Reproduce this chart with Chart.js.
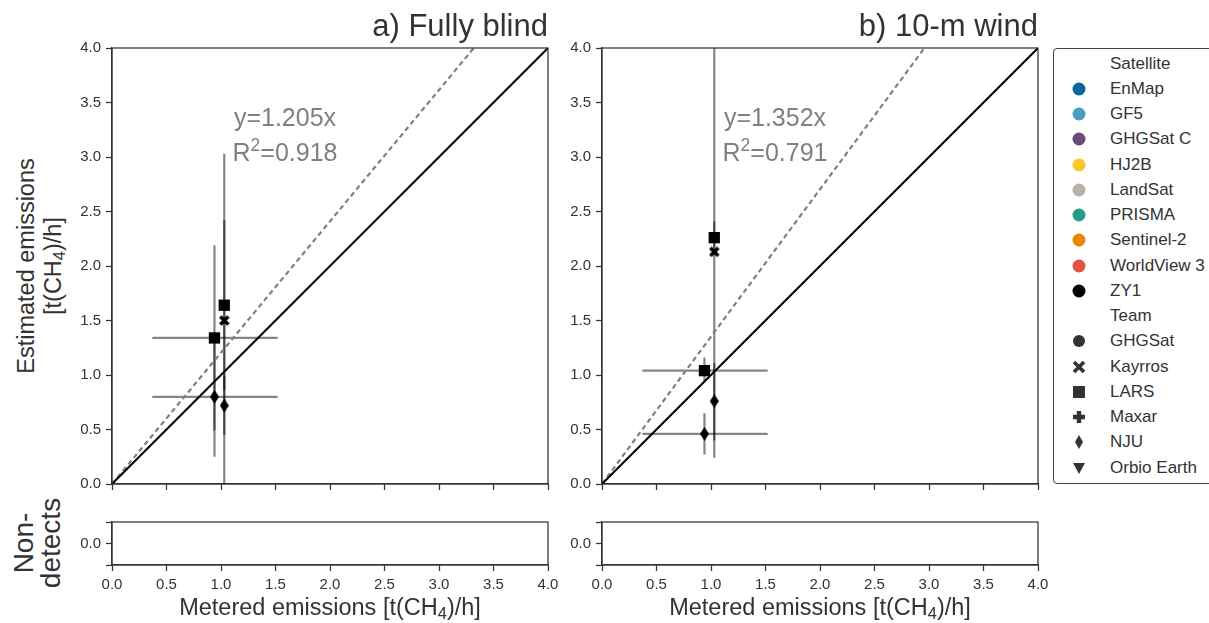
<!DOCTYPE html>
<html>
<head>
<meta charset="utf-8">
<script src="https://cdn.jsdelivr.net/npm/chart.js@4"></script>
<style>
  body { margin: 0; background: #fff; font-family: "Liberation Sans", Arial, sans-serif; color: #333; }
  #wrap { position: relative; width: 1209px; height: 623px; overflow: hidden; }
  canvas.plot { position: absolute; }
  .txt { position: absolute; white-space: nowrap; }
  .title { font-size: 31px; top: 8px; color: #333; }
  .note { font-size: 25px; color: #808080; transform: translateX(-50%); line-height: 35px; text-align: center; }
  .xlab { font-size: 23.5px; top: 594px; transform: translateX(-50%); }
  .rot { transform-origin: center center; text-align: center; }
  sub { font-size: 0.7em; vertical-align: -0.25em; line-height: 0; }
  sup { font-size: 0.7em; vertical-align: 0.55em; line-height: 0; }
  #legend { position: absolute; left: 1053px; top: 48px; width: 180px; height: 434px; border: 1px solid #444; border-radius: 4px; }
  .lrow { position: absolute; left: 0; height: 24px; font-size: 17px; line-height: 24px; }
  .lrow svg { position: absolute; left: 17px; top: 4px; }
  .lrow span { position: absolute; left: 56px; white-space: nowrap; }
</style>
</head>
<body>
<div id="wrap">
  <canvas class="plot" id="mainA" width="486" height="464" style="left:72px;top:34px"></canvas>
  <canvas class="plot" id="mainB" width="486" height="464" style="left:562px;top:34px"></canvas>
  <canvas class="plot" id="ndA" width="492" height="87" style="left:72px;top:508px"></canvas>
  <canvas class="plot" id="ndB" width="492" height="87" style="left:562px;top:508px"></canvas>

  <div class="txt title" style="right:661px">a) Fully blind</div>
  <div class="txt title" style="right:171px">b) 10-m wind</div>

  <div class="txt note" style="left:285px;top:100px">y=1.205x<br>R<sup>2</sup>=0.918</div>
  <div class="txt note" style="left:775px;top:100px">y=1.352x<br>R<sup>2</sup>=0.791</div>

  <div class="txt rot" style="font-size:23.5px;line-height:27px;width:300px;left:-110px;top:239px;transform:rotate(-90deg)">Estimated emissions<br>[t(CH<sub>4</sub>)/h]</div>
  <div class="txt rot" style="font-size:28px;line-height:27px;width:140px;left:-33px;top:516px;transform:rotate(-90deg)">Non-<br>detects</div>

  <div class="txt xlab" style="left:330px">Metered emissions [t(CH<sub>4</sub>)/h]</div>
  <div class="txt xlab" style="left:820px">Metered emissions [t(CH<sub>4</sub>)/h]</div>

  <div id="legend"></div>
</div>
<script>
  // --- Data ---
  const axisTicks = [0, 0.5, 1, 1.5, 2, 2.5, 3, 3.5, 4];
  const teamOfPoint = ["LARS", "Kayrros", "NJU", "LARS", "NJU"];
  const metered = [1.03, 1.03, 1.03, 0.94, 0.94];
  const meteredLow = [null, null, null, 0.37, 0.37];
  const meteredHigh = [null, null, null, 1.52, 1.52];

  // a) Fully blind
  const blindEstimated = [1.64, 1.5, 0.72, 1.34, 0.8];
  const blindLow = [0.86, 0.0, 0.45, 0.49, 0.25];
  const blindHigh = [2.42, 3.03, 0.99, 2.19, 1.35];
  const blindSlope = 1.205;

  // b) 10-m wind
  const windEstimated = [2.26, 2.13, 0.76, 1.04, 0.46];
  const windLow = [2.12, 0.24, 0.4, 0.93, 0.27];
  const windHigh = [2.41, 4.03, 1.11, 1.16, 0.65];
  const windSlope = 1.352;

  const ndTicks = [-1, 0, 1];

  const satellites = ["EnMap", "GF5", "GHGSat C", "HJ2B", "LandSat", "PRISMA", "Sentinel-2", "WorldView 3", "ZY1"];
  const satColors = ["#0b6796", "#4b9ec0", "#6d4a7c", "#fbc62a", "#b7b1aa", "#269c89", "#ec8506", "#e0533f", "#000000"];
  const teams = ["GHGSat", "Kayrros", "LARS", "Maxar", "NJU", "Orbio Earth"];

  // --- Marker shapes ---
  function markerCanvas(w, h, draw) {
    const c = document.createElement("canvas");
    c.width = w; c.height = h;
    const ctx = c.getContext("2d");
    ctx.fillStyle = "#000";
    draw(ctx, w, h);
    return c;
  }
  const diamondImg = markerCanvas(9, 14, (ctx, w, h) => {
    ctx.beginPath();
    ctx.moveTo(w / 2, 0); ctx.lineTo(w, h / 2); ctx.lineTo(w / 2, h); ctx.lineTo(0, h / 2);
    ctx.closePath(); ctx.fill();
  });
  const crossImg = markerCanvas(11, 11, (ctx, w, h) => {
    ctx.strokeStyle = "#000"; ctx.lineWidth = 3.6;
    ctx.beginPath();
    ctx.moveTo(1.5, 1.5); ctx.lineTo(w - 1.5, h - 1.5);
    ctx.moveTo(w - 1.5, 1.5); ctx.lineTo(1.5, h - 1.5);
    ctx.stroke();
  });
  const teamStyle = { LARS: "rect", Kayrros: crossImg, NJU: diamondImg };

  // --- Frame around every axes box ---
  const frame = {
    id: "frame",
    afterDatasetsDraw(chart) {
      const { ctx, chartArea: a } = chart;
      ctx.save();
      ctx.strokeStyle = "#333";
      ctx.lineWidth = 1.25;
      ctx.strokeRect(a.left, a.top, a.right - a.left, a.bottom - a.top);
      ctx.restore();
    },
  };

  function setTicks(values) {
    return (s) => { s.ticks = values.map((v) => ({ value: v })); };
  }
  const gridOpts = { drawOnChartArea: false, tickLength: 6, tickColor: "#333", tickWidth: 1.25 };
  const tickFont = { family: "'Liberation Sans', Arial, sans-serif", size: 15 };

  function buildDatasets(estimated, low, high, slope) {
    const ds = [];
    estimated.forEach((y, i) => {
      ds.push({
        data: [{ x: metered[i], y: y }],
        pointStyle: teamStyle[teamOfPoint[i]],
        pointRadius: 8,
        backgroundColor: "#000",
        borderColor: "#000",
        borderWidth: 0,
        order: 0,
      });
    });
    ds.push({
      data: [{ x: 0, y: 0 }, { x: 4, y: 4 }],
      showLine: true, pointRadius: 0, borderColor: "#000", borderWidth: 2, order: 1,
    });
    ds.push({
      data: [{ x: 0, y: 0 }, { x: 4, y: 4 * slope }],
      showLine: true, pointRadius: 0, borderColor: "#808080", borderWidth: 2.2,
      borderDash: [5, 3.5], order: 1,
    });
    const errColor = "rgba(0,0,0,0.48)";
    estimated.forEach((y, i) => {
      ds.push({
        data: [{ x: metered[i], y: low[i] }, { x: metered[i], y: high[i] }],
        showLine: true, pointRadius: 0, borderColor: errColor, borderWidth: 2.2, order: 2,
      });
      if (meteredLow[i] !== null) {
        ds.push({
          data: [{ x: meteredLow[i], y: y }, { x: meteredHigh[i], y: y }],
          showLine: true, pointRadius: 0, borderColor: errColor, borderWidth: 2.2, order: 2,
        });
      }
    });
    return ds;
  }

  function mainChart(id, estimated, low, high, slope) {
    new Chart(document.getElementById(id), {
      type: "scatter",
      data: { datasets: buildDatasets(estimated, low, high, slope) },
      options: {
        responsive: false,
        animation: false,
        events: [],
        layout: { padding: { top: 14, right: 10, left: 0, bottom: 0 } },
        plugins: { legend: { display: false }, tooltip: { enabled: false } },
        scales: {
          x: {
            type: "linear", min: 0, max: 4,
            afterBuildTicks: setTicks(axisTicks),
            afterFit: (s) => { s.height = 14; },
            ticks: { display: false },
            grid: gridOpts,
            border: { color: "#333", width: 1.25 },
          },
          y: {
            type: "linear", min: 0, max: 4,
            afterBuildTicks: setTicks(axisTicks),
            afterFit: (s) => { s.width = 40; },
            ticks: { color: "#333", font: tickFont, padding: 5, autoSkip: false, callback: (v) => v.toFixed(1) },
            grid: gridOpts,
            border: { color: "#333", width: 1.25 },
          },
        },
      },
      plugins: [frame],
    });
  }

  function nonDetectChart(id) {
    new Chart(document.getElementById(id), {
      type: "scatter",
      data: { datasets: [{ data: [] }] },
      options: {
        responsive: false,
        animation: false,
        events: [],
        layout: { padding: { top: 14, right: 16, left: 0, bottom: 0 } },
        plugins: { legend: { display: false }, tooltip: { enabled: false } },
        scales: {
          x: {
            type: "linear", min: 0, max: 4,
            afterBuildTicks: setTicks(axisTicks),
            afterFit: (s) => { s.height = 30; },
            ticks: { color: "#333", font: tickFont, padding: 5, maxRotation: 0, autoSkip: false, callback: (v) => v.toFixed(1) },
            grid: gridOpts,
            border: { color: "#333", width: 1.25 },
          },
          y: {
            type: "linear", min: -1, max: 1,
            afterBuildTicks: setTicks(ndTicks),
            afterFit: (s) => { s.width = 40; },
            ticks: { color: "#333", font: tickFont, padding: 5, autoSkip: false, callback: (v) => (v === 0 ? "0.0" : "") },
            grid: gridOpts,
            border: { color: "#333", width: 1.25 },
          },
        },
      },
      plugins: [frame],
    });
  }

  mainChart("mainA", blindEstimated, blindLow, blindHigh, blindSlope);
  mainChart("mainB", windEstimated, windLow, windHigh, windSlope);
  nonDetectChart("ndA");
  nonDetectChart("ndB");

  // --- Legend ---
  const teamSvg = {
    GHGSat: '<circle cx="8" cy="8" r="6" fill="#333"/>',
    Kayrros: '<path d="M3 3 L13 13 M13 3 L3 13" stroke="#333" stroke-width="3.6"/>',
    LARS: '<rect x="2" y="2" width="12" height="12" fill="#333"/>',
    Maxar: '<path d="M8 2 V14 M2 8 H14" stroke="#333" stroke-width="4.4"/>',
    NJU: '<path d="M8 1 L12 8 L8 15 L4 8 Z" fill="#333"/>',
    "Orbio Earth": '<path d="M2 3 L14 3 L8 14 Z" fill="#333"/>',
  };
  const legend = document.getElementById("legend");
  const rows = [];
  rows.push({ label: "Satellite", svg: "" });
  satellites.forEach((s, i) => rows.push({ label: s, svg: '<circle cx="8" cy="8" r="6.5" fill="' + satColors[i] + '"/>' }));
  rows.push({ label: "Team", svg: "" });
  teams.forEach((t) => rows.push({ label: t, svg: teamSvg[t] }));
  rows.forEach((r, i) => {
    const div = document.createElement("div");
    div.className = "lrow";
    div.style.top = (2.7 + 25.25 * i) + "px";
    div.innerHTML = (r.svg ? '<svg width="16" height="16">' + r.svg + "</svg>" : "") + "<span>" + r.label + "</span>";
    legend.appendChild(div);
  });
</script>
</body>
</html>
